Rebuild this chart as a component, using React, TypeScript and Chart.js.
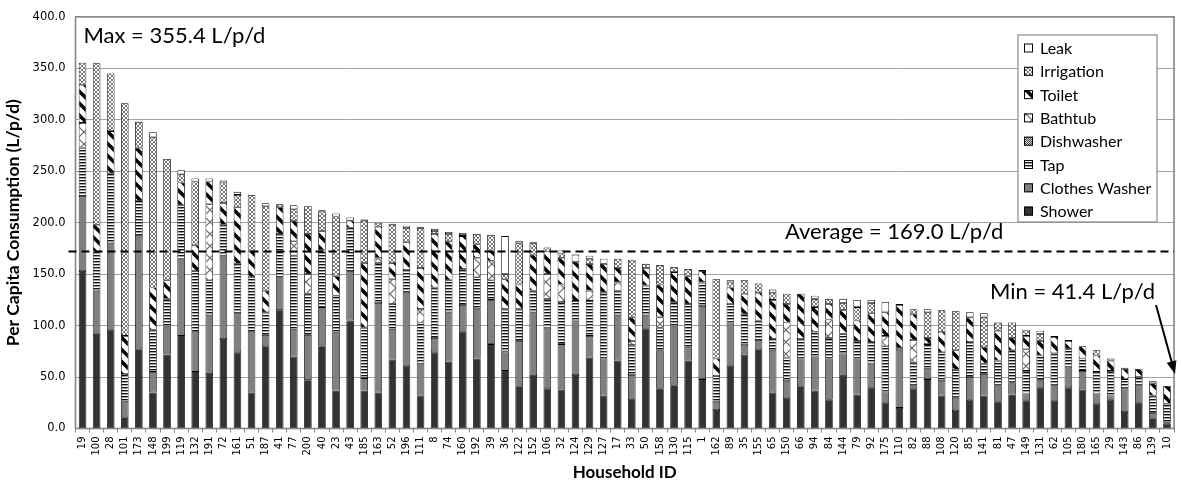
import React, { useEffect, useRef } from 'react';
import { Chart, registerables } from 'chart.js';

Chart.register(...registerables);

// ---------- data ----------
const households = [
  '19', '100', '28', '101', '173', '148', '199', '119', '132', '191',
  '72', '161', '51', '187', '41', '77', '200', '40', '23', '43',
  '185', '163', '52', '196', '111', '8', '74', '160', '192', '39',
  '36', '122', '152', '106', '32', '124', '129', '127', '17', '33',
  '50', '158', '130', '115', '1', '162', '89', '35', '155', '65',
  '150', '66', '94', '84', '144', '79', '92', '175', '110', '82',
  '88', '108', '120', '85', '141', '81', '47', '149', '131', '62',
  '105', '180', '165', '29', '143', '86', '139', '10',
];

const shower = [
  153, 92, 96, 11, 77, 35, 72, 90, 55, 53,
  87, 74, 35, 80, 115, 70, 47, 80, 37, 105,
  37, 35, 67, 61, 32, 74, 65, 94, 68, 82,
  56, 41, 51, 39, 38, 52, 69, 32, 66, 29,
  97, 39, 42, 66, 48, 18, 61, 72, 77, 35,
  30, 41, 37, 28, 51, 33, 40, 25, 20, 39,
  48, 32, 17, 28, 32, 26, 33, 27, 40, 27,
  40, 38, 24, 28, 16, 25, 10, 5,
];

const clothesWasher = [
  73, 42, 84, 15, 111, 20, 27, 75, 39, 57,
  81, 38, 59, 11, 32, 26, 44, 38, 56, 48,
  12, 87, 29, 71, 31, 14, 48, 26, 48, 43,
  19, 44, 62, 59, 44, 53, 21, 36, 44, 23,
  13, 37, 57, 13, 71, 8, 42, 9, 9, 41,
  16, 27, 33, 40, 22, 35, 23, 11, 56, 3,
  10, 14, 13, 22, 21, 16, 12, 7, 7, 15,
  20, 18, 10, 4, 23, 17, 5, 1,
];

const tap = [
  47, 38, 68, 27, 33, 41, 27, 52, 59, 34,
  30, 48, 53, 22, 42, 72, 40, 55, 36, 42,
  49, 39, 25, 22, 40, 49, 31, 35, 31, 19,
  41, 31, 21, 28, 41, 19, 34, 64, 24, 29,
  29, 22, 24, 42, 23, 25, 18, 30, 19, 11,
  23, 19, 24, 20, 19, 17, 21, 44, 2, 22,
  24, 28, 27, 34, 10, 24, 31, 22, 24, 31,
  17, 12, 21, 24, 9, 8, 17, 18,
];

const dishwasher = [
  0, 0, 0, 0, 0, 0, 0, 0, 0, 0,
  0, 0, 0, 0, 0, 0, 0, 0, 0, 0,
  0, 0, 0, 0, 0, 0, 0, 0, 0, 0,
  0, 0, 0, 0, 0, 0, 0, 0, 0, 0,
  0, 0, 0, 0, 0, 0, 0, 0, 0, 0,
  0, 0, 0, 0, 0, 0, 0, 0, 0, 0,
  0, 0, 0, 0, 0, 0, 0, 0, 0, 0,
  0, 0, 0, 0, 0, 0, 0, 0,
];

const bathtub = [
  24, 0, 0, 0, 0, 0, 0, 0, 0, 74,
  0, 0, 0, 0, 0, 14, 19, 0, 0, 0,
  0, 5, 24, 0, 13, 0, 0, 0, 19, 19,
  0, 0, 0, 24, 17, 0, 10, 0, 8, 4,
  0, 10, 0, 0, 0, 0, 0, 0, 0, 0,
  34, 0, 0, 18, 0, 0, 0, 10, 0, 22,
  0, 0, 0, 0, 0, 0, 0, 21, 0, 0,
  0, 0, 0, 0, 0, 0, 0, 0,
];

const toilet = [
  37, 26, 41, 37, 52, 41, 18, 22, 25, 22,
  21, 55, 26, 21, 26, 20, 39, 19, 19, 7,
  63, 30, 16, 27, 40, 52, 38, 32, 13, 10,
  29, 24, 35, 22, 26, 38, 26, 28, 14, 23,
  17, 32, 29, 27, 11, 17, 16, 20, 27, 38,
  18, 44, 24, 15, 23, 20, 28, 23, 42, 25,
  6, 20, 19, 24, 16, 29, 12, 13, 14, 16,
  8, 12, 16, 10, 10, 8, 12, 17.4,
];

const irrigation = [
  21.4, 157, 56, 226, 25, 146, 118, 8, 62, 0,
  20, 12, 54, 82, 3, 11, 27, 19, 58, 0,
  41, 4, 37, 14, 39, 3, 7, 1, 10, 15,
  5, 40, 11, 4, 4, 0, 5, 0, 9, 56,
  4, 19, 5, 7, 0, 77, 5, 13, 9, 7,
  10, 0, 8, 5, 7, 13, 10, 0, 1, 5,
  25, 21, 38, 0, 29, 8, 15, 6, 7, 0,
  0, 0, 5, 0, 0, 0, 0, 0,
];

const leak = [
  0, 0, 0, 0, 0, 5, 0, 4, 3, 3,
  2, 3, 0, 3, 0, 4, 0, 1, 3, 3,
  1, 0, 1, 2, 1, 2, 2, 2, 0, 0,
  37, 2, 1, 0, 3, 7, 3, 5, 0, 0,
  0, 0, 0, 0, 1, 0, 2, 0, 0, 3,
  0, 0, 3, 0, 4, 7, 3, 10, 0, 0,
  3, 0, 0, 5, 4, 0, 0, 0, 3, 1,
  1, 0, 0, 2, 1, 0, 2, 0,
];

const yTicks = [0, 50, 100, 150, 200, 250, 300, 350, 400];
const averageLineLevel = 172;
const maxLabel = 'Max = 355.4 L/p/d';
const averageLabel = 'Average = 169.0 L/p/d';
const minLabel = 'Min = 41.4 L/p/d';
const yTitle = 'Per Capita Consumption (L/p/d)';
const xTitle = 'Household ID';

const FONT = "Lato, 'Open Sans', sans-serif";
const TICK_FONT = "'DejaVu Sans', Verdana, sans-serif";

type Kind = 'shower' | 'washer' | 'tap' | 'dish' | 'bath' | 'toilet' | 'irrig' | 'leak';

function makeFill(kind: Kind): CanvasPattern | string {
  if (kind === 'shower') return '#333333';
  if (kind === 'washer') return '#808080';
  if (kind === 'leak') return '#ffffff';
  const c = document.createElement('canvas');
  const g = c.getContext('2d')!;
  if (kind === 'tap') {
    c.width = 4; c.height = 3;
    g.fillStyle = '#fff'; g.fillRect(0, 0, 4, 3);
    g.fillStyle = '#111'; g.fillRect(0, 0, 4, 1.4);
  } else if (kind === 'dish') {
    c.width = 2; c.height = 2;
    g.fillStyle = '#ddd'; g.fillRect(0, 0, 2, 2);
    g.fillStyle = '#444'; g.fillRect(0, 0, 1, 1); g.fillRect(1, 1, 1, 1);
  } else if (kind === 'bath') {
    c.width = 12; c.height = 12;
    g.fillStyle = '#fff'; g.fillRect(0, 0, 12, 12);
    g.strokeStyle = '#666'; g.lineWidth = 1.2;
    g.beginPath();
    g.moveTo(0, 0); g.lineTo(12, 12);
    g.moveTo(12, 0); g.lineTo(0, 12);
    g.stroke();
  } else if (kind === 'toilet') {
    c.width = 12; c.height = 12;
    g.fillStyle = '#fff'; g.fillRect(0, 0, 12, 12);
    g.strokeStyle = '#000'; g.lineWidth = 3.6;
    g.beginPath();
    for (let k = -1; k <= 1; k++) {
      g.moveTo(-2, k * 12 - 2); g.lineTo(14, 14 + k * 12);
    }
    g.stroke();
  } else if (kind === 'irrig') {
    c.width = 4; c.height = 4;
    g.fillStyle = '#fff'; g.fillRect(0, 0, 4, 4);
    g.strokeStyle = '#777'; g.lineWidth = 1;
    g.beginPath();
    g.moveTo(0, 0); g.lineTo(4, 4);
    g.moveTo(4, 0); g.lineTo(0, 4);
    g.stroke();
  }
  return g.createPattern(c, 'repeat')!;
}

const seriesDefs: { label: string; data: number[]; kind: Kind }[] = [
  { label: 'Shower', data: shower, kind: 'shower' },
  { label: 'Clothes Washer', data: clothesWasher, kind: 'washer' },
  { label: 'Tap', data: tap, kind: 'tap' },
  { label: 'Dishwasher', data: dishwasher, kind: 'dish' },
  { label: 'Bathtub', data: bathtub, kind: 'bath' },
  { label: 'Toilet', data: toilet, kind: 'toilet' },
  { label: 'Irrigation', data: irrigation, kind: 'irrig' },
  { label: 'Leak', data: leak, kind: 'leak' },
];

export default function App() {
  const ref = useRef<HTMLCanvasElement>(null);

  useEffect(() => {
    const canvas = ref.current!;
    const fills = seriesDefs.map((s) => makeFill(s.kind));

    const overlay = {
      id: 'overlay',
      afterDatasetsDraw(chart: any) {
        const { ctx, chartArea: a, scales } = chart;
        const y = scales.y;
        ctx.save();
        ctx.strokeStyle = '#868686';
        ctx.lineWidth = 1.6;
        ctx.strokeRect(a.left, a.top, a.right - a.left, a.bottom - a.top);
        const yy = y.getPixelForValue(averageLineLevel);
        ctx.setLineDash([8, 5]);
        ctx.strokeStyle = '#000';
        ctx.lineWidth = 2;
        ctx.beginPath();
        ctx.moveTo(a.left - 7, yy);
        ctx.lineTo(a.right, yy);
        ctx.stroke();
        ctx.restore();
      },
      afterDraw(chart: any) {
        const { ctx, chartArea: a } = chart;
        ctx.save();
        ctx.fillStyle = '#000';
        ctx.textBaseline = 'alphabetic';
        ctx.textAlign = 'left';
        ctx.font = `22px ${FONT}`;
        ctx.fillText(maxLabel, a.left + 8, 43);
        ctx.fillText(averageLabel, 785, 239);
        ctx.fillText(minLabel, 990, 299);
        const x0 = 1156, y0 = 305, x1 = 1175, y1 = 374;
        const ang = Math.atan2(y1 - y0, x1 - x0);
        ctx.strokeStyle = '#000';
        ctx.lineWidth = 2;
        ctx.beginPath();
        ctx.moveTo(x0, y0);
        ctx.lineTo(x1 - 10 * Math.cos(ang), y1 - 10 * Math.sin(ang));
        ctx.stroke();
        ctx.beginPath();
        ctx.moveTo(x1, y1);
        ctx.lineTo(x1 - 13 * Math.cos(ang) + 5 * Math.sin(ang), y1 - 13 * Math.sin(ang) - 5 * Math.cos(ang));
        ctx.lineTo(x1 - 13 * Math.cos(ang) - 5 * Math.sin(ang), y1 - 13 * Math.sin(ang) + 5 * Math.cos(ang));
        ctx.closePath();
        ctx.fillStyle = '#000';
        ctx.fill();

        const lx = 1018, ly = 35, lw = 139, lh = 187;
        ctx.fillStyle = '#fff';
        ctx.fillRect(lx, ly, lw, lh);
        ctx.strokeStyle = '#8a8a8a';
        ctx.lineWidth = 1.2;
        ctx.strokeRect(lx, ly, lw, lh);
        ctx.font = `16px ${FONT}`;
        ctx.textBaseline = 'middle';
        const items = seriesDefs.map((s, i) => ({ label: s.label, fill: fills[i] })).reverse();
        items.forEach((it, i) => {
          const cy = 48 + i * 23.3;
          ctx.fillStyle = it.fill as any;
          ctx.fillRect(1024, cy - 4.5, 9, 9);
          ctx.strokeStyle = '#000';
          ctx.lineWidth = 1;
          ctx.strokeRect(1024.5, cy - 4, 8, 8);
          ctx.fillStyle = '#000';
          ctx.fillText(it.label, 1040, cy + 1);
        });
        ctx.restore();
      },
    };

    const chart = new Chart(canvas, {
      type: 'bar',
      data: {
        labels: households,
        datasets: seriesDefs.map((s, i) => ({
          label: s.label,
          data: s.data,
          backgroundColor: fills[i] as any,
          borderColor: '#000',
          borderWidth: 0.8,
          borderSkipped: false,
          barPercentage: 0.54,
          categoryPercentage: 1,
        })),
      },
      options: {
        animation: false,
        responsive: true,
        maintainAspectRatio: false,
        layout: { padding: { top: 15, right: 2, left: 0, bottom: 0 } },
        plugins: { legend: { display: false }, tooltip: { enabled: false } },
        scales: {
          x: {
            stacked: true,
            offset: true,
            grid: { display: true, drawOnChartArea: false, drawTicks: true, tickLength: 4, color: '#868686', offset: true },
            border: { display: false },
            ticks: {
              autoSkip: false,
              maxRotation: 90,
              minRotation: 90,
              padding: 4,
              color: '#000',
              font: { family: TICK_FONT, size: 10 },
            },
            title: {
              display: true,
              text: xTitle,
              color: '#000',
              font: { family: FONT, size: 17, weight: 'bold' },
              padding: { top: 0, bottom: 2 },
            },
            afterFit: (s: any) => { s.height = 56.5; },
          },
          y: {
            stacked: true,
            min: 0,
            max: 400,
            afterBuildTicks: (s: any) => { s.ticks = yTicks.map((v) => ({ value: v })); },
            grid: { color: '#a3a3a3', lineWidth: 1, drawTicks: false },
            border: { display: false },
            ticks: {
              padding: 10,
              color: '#000',
              font: { family: TICK_FONT, size: 11.5 },
              callback: (v: any) => Number(v).toFixed(1),
            },
            title: {
              display: true,
              text: yTitle,
              color: '#000',
              font: { family: FONT, size: 17.5, weight: 'bold' },
              padding: { top: 3, bottom: 8 },
            },
            afterFit: (s: any) => { s.width = 75.5; },
          },
        },
      },
      plugins: [overlay],
    });

    return () => chart.destroy();
  }, []);

  return (
    <div style={{ position: 'fixed', left: 0, top: 0, width: 1183, height: 485, background: '#fff' }}>
      <canvas ref={ref} />
    </div>
  );
}
